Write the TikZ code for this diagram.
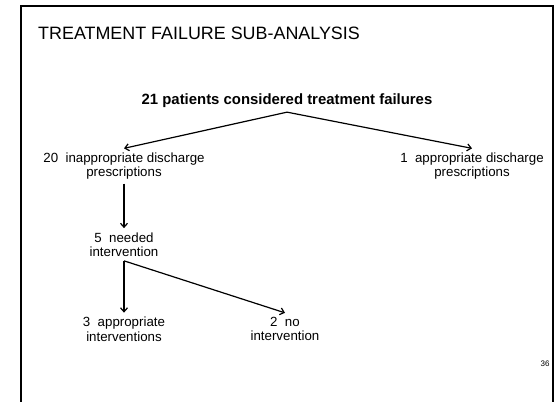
\documentclass[tikz,border=0pt]{standalone}
\usepackage{fontspec}
\setmainfont{Liberation Sans}
\usetikzlibrary{arrows.meta,trees}

\begin{document}
\begin{tikzpicture}[x=1pt,y=-1pt]
\tikzstyle{lbl}=[align=center,font=\fontsize{13.3}{14.5}\selectfont,inner sep=4pt]
\tikzstyle{every node}=[lbl]
\tikzstyle{level 1}=[grow via three points={one child at (0,65) and two children at (-163,65) and (185,65)}]
\tikzstyle{level 2}=[grow via three points={one child at (0,78.5) and two children at (0,78.5) and (0,78.5)}]
\tikzstyle{level 3}=[grow via three points={one child at (0,84.5) and two children at (0,84.5) and (161,84.5)}]
\tikzstyle{edge from parent}=[draw,line width=1.2pt,-{Straight Barb[length=4pt,width=7pt]}]
\useasboundingbox (0,0) rectangle (556,401);
% slide frame, open at the bottom
\draw[line width=2.5pt] (21,410) -- (21,6) -- (553,6) -- (553,410);
\node[anchor=west,inner sep=0pt,font=\fontsize{17.9}{20}\selectfont] (title) at (38,33.5) {TREATMENT FAILURE SUB-ANALYSIS};
\node[font=\fontsize{14.9}{16}\bfseries] (top) at (287,101) {21 patients considered treatment failures}
  [parent anchor=south,child anchor=north]
  child {node (inapp) {20\ \ inappropriate discharge\\prescriptions}
    child {node (needed) {5\ \ needed\\intervention}
      child {node (appint) {3\ \ appropriate\\interventions}}
      child {node (noint) {2\ \ no\\intervention}}
    }
  }
  child {node (app) {1\ \ appropriate discharge\\prescriptions}}
;
\node[font=\fontsize{8}{9}\selectfont,inner sep=0pt] (pagenum) at (545,364) {36};
\end{tikzpicture}
\end{document}
